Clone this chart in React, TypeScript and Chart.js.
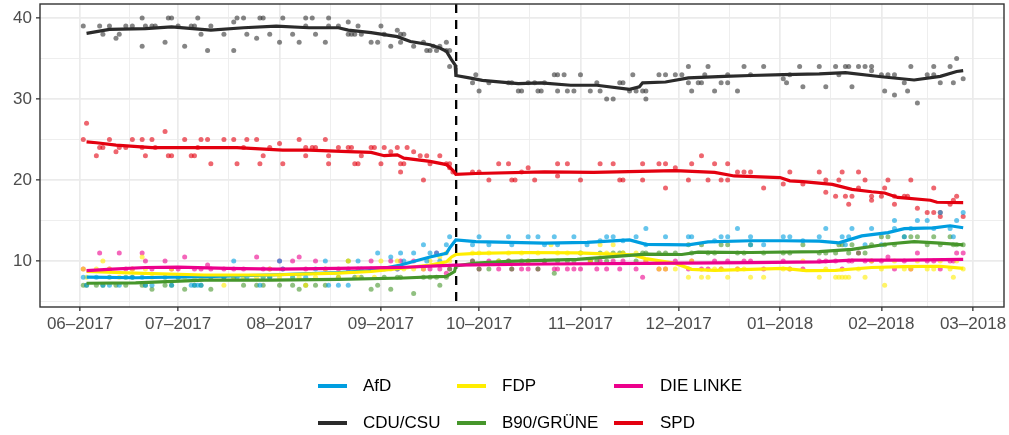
import React, { useEffect, useRef } from "react";
import { Chart, registerables } from "chart.js";
Chart.register(...registerables);

// x values: days since 2017-06-01
const monthTicks = [0, 30, 61, 92, 122, 153, 183, 214, 245, 273];
const monthLabels = ["06–2017", "07–2017", "08–2017", "09–2017", "10–2017", "11–2017", "12–2017", "01–2018", "02–2018", "03–2018"];
const minorXTicks = [15, 45.5, 76.5, 107, 137.5, 168, 198.5, 229.5, 259];
const yMajorTicks = [10, 20, 30, 40];
const yMinorTicks = [5, 15, 25, 35];
const electionDay = 115;

const partyNames = ["AfD", "CDU/CSU", "FDP", "B90/GRÜNE", "DIE LINKE", "SPD"];
const partyColors = ["#009EE0", "#333333", "#FFED00", "#46962B", "#EC008C", "#E3000F"];

// poll points [day, percent]
const afdPolls = [[1,8],[2,7],[5,8],[7,7],[9,7],[12,7],[14,8],[16,8],[19,8],[20,7],[22,7],[26,8],[28,7],[30,8],[34,7],[35,7],[36,7],[37,7],[40,8],[44,8],[47,10],[48,8],[51,8],[55,7],[56,8],[58,8],[61,10],[62,9],[65,8],[69,8],[72,9],[75,10],[76,7],[79,7],[82,7],[85,10],[86,9],[89,9],[91,11],[93,9],[95,10.5],[97,9],[98,11],[99,10],[102,11],[105,12],[106,10],[107,11],[109,11],[110,10],[112,12],[113,13],
  [120,12],[122,13],[125,12],[131,13],[132,12],[137,13],[140,13],[142,12],[145,13],[146,12],[151,13],[155,12],[159,12.5],[161,13],[163,13],[166,12.5],[170,13],[173,14],[173,12],[179,13],[186,13],[187,13],[194,12.5],[196,13],[198,13],[201,14],[205,13],[205,12],[209,12],[215,13],[217,13],[221,12.5],[226,13],[228,14],[233,13],[234,12],[235,13],[236,14],[240,12],[242,14],[245,12],[249,15],[249,14],[252,13],[254,14],[256,15],[259,15],[261,14],[263,16],[266,14],[267,13],[268,15],[270,16]];
const cduPolls = [[1,39],[6,39],[7,38],[9,39],[11,37.5],[12,38],[14,39],[16,39],[19,40],[19,36.5],[20,39],[22,39],[23,39],[26,37],[27,40],[28,40],[30,39],[32,36.5],[34,39],[35,39],[36,40],[37,38],[39,36],[40,39],[44,38],[47,39.5],[47,36],[48,40],[50,40],[51,38],[54,37.5],[55,40],[56,40],[58,38],[61,37],[62,40],[65,38],[67,37],[69,40],[69,39],[71,40],[72,38],[75,37],[76,40],[76,39],[79,39],[82,39.5],[82,38],[83,38],[84,38],[85,39],[86,38],[89,37],[91,37],[92,39],[93,38],[95,36.5],[97,38.5],[98,38],[98,37],[99,38],[102,36.5],[105,37],[106,36],[107,36],[108,36.5],[109,36],[110,36.5],[112,37],[112,36],[113,36],[113,34],
  [120,32],[121,33],[122,31],[125,32],[131,32],[132,32],[134,31],[135,31],[137,32],[139,32],[140,31],[141,31],[142,32],[145,33],[146,33],[146,31],[148,33],[149,31],[151,31],[153,33],[156,31],[158,32],[159,31],[161,30],[163,30],[165,32],[166,32],[168,31],[169,33],[170,31],[172,31],[173,30],[173,31],[177,33],[179,33],[182,33],[184,33],[186,34],[186,32],[187,31],[189,32],[190,32],[191,33],[192,34],[194,31],[196,32],[198,33],[198,32],[201,31],[203,34],[205,33],[209,34],[215,32.5],[216,32],[217,33],[220,34],[221,31.5],[226,34],[228,31.5],[231,34],[232,33],[234,34],[235,34],[236,31.5],[238,34],[240,34],[242,34],[242,33.5],[245,33],[246,31],[247,33],[249,33],[249,30.5],[252,32],[253,31],[254,34],[256,29.5],[259,33],[261,34],[261,33],[263,32],[266,34],[267,32],[268,35],[270,32.5]];
const fdpPolls = [[1,9],[2,8],[5,9],[7,10],[9,9],[12,8],[14,8],[16,9],[19,10.5],[20,9],[22,8],[26,8],[28,9],[30,8],[32,8],[35,8],[37,8],[40,8],[44,7],[47,8],[50,8],[54,8],[56,8],[58,9],[61,8],[65,8],[67,8],[69,7],[72,8],[75,9],[79,8],[82,10],[85,8],[89,9],[90,8],[92,10],[95,9],[97,10],[99,9],[102,9],[105,9],[107,10],[110,10.5],[112,11],[113,10],
  [120,11],[122,11],[125,11],[128,10],[131,11],[135,11],[137,10],[140,11],[144,12],[146,11],[149,11],[153,11],[156,10],[159,12],[161,11],[163,12],[166,11],[170,11],[173,10],[177,9],[179,9],[182,9],[186,8],[187,10],[190,8],[192,8],[194,9],[196,9],[198,8],[201,9],[203,9],[205,8],[209,8],[215,9],[217,9],[221,10],[226,8],[228,9],[231,8],[232,8],[233,8],[234,8],[235,8],[238,9],[240,8],[242,10],[245,9],[246,7],[249,10],[252,9],[254,9],[256,10],[259,9],[261,9],[263,10],[266,9],[267,8],[268,10],[270,9]];
const gruenePolls = [[1,7],[2,7],[5,7],[7,7],[9,8],[11,7],[14,7],[16,8],[19,7],[20,7],[22,6.5],[26,7],[28,7],[30,8],[32,6.5],[35,7],[37,7],[40,6.5],[44,8],[47,8],[50,7],[54,7],[56,7],[58,8],[61,7],[65,7],[67,6.5],[69,7],[72,7],[75,7],[79,8],[82,10],[84,8],[86,8],[89,6.5],[91,7],[93,8],[95,6.5],[97,8],[98,8],[102,6],[105,8],[107,8],[109,8],[110,7],[112,8],[113,9],
  [120,10],[122,9],[125,9],[128,10],[131,10],[132,9],[135,10],[137,10],[140,9],[142,10],[145,8.5],[146,10],[149,10],[151,10],[153,11],[156,10],[158,10],[159,11],[161,10],[163,11],[165,11],[166,11],[170,10],[172,11],[173,11],[177,11],[179,11],[182,11],[186,12],[187,11],[190,12],[192,11],[194,11],[196,12],[198,12],[201,11],[203,11],[205,12],[209,11],[215,11],[217,11],[221,12],[226,11],[228,11],[231,11],[232,12],[233,12],[235,11],[236,12],[238,11],[240,11],[242,12],[245,13],[246,12],[247,13],[249,12],[252,13],[254,13],[256,13],[259,12],[261,13],[263,12],[266,13],[267,12],[268,12],[270,12]];
const linkePolls = [[1,9],[6,11],[9,9],[12,11],[14,9],[16,9],[19,11],[20,10],[22,9],[26,10],[28,9],[30,9],[32,10.5],[35,9],[37,9],[39,9.5],[40,9],[44,9],[47,9],[50,9],[54,10.5],[56,9],[58,9],[61,10],[62,9],[65,10],[67,10.5],[69,9],[72,10],[75,9],[79,9],[82,9],[85,9],[89,10],[92,9],[95,10],[97,9],[98,10],[102,10],[105,9],[107,9],[109,11],[110,9],[112,8.5],[113,9],
  [120,10],[122,9],[125,10],[128,9],[131,10],[132,9],[135,9],[137,9],[140,9],[142,10],[145,9],[146,9],[149,9],[151,9],[153,9],[156,10],[158,9],[159,10],[161,9],[163,10],[165,9],[166,10],[170,9],[172,8],[173,10],[177,9],[179,9],[182,10],[186,9],[187,10],[190,9],[192,9],[194,10],[196,9],[198,10],[201,9],[203,10],[205,10],[209,9],[215,10],[217,9],[221,9],[226,10],[228,10],[231,10],[233,9],[235,10],[236,10],[238,11],[240,10],[242,10],[245,10],[247,10.5],[249,9],[252,10],[254,9],[256,11],[259,10],[261,10],[263,9],[266,10],[267,10],[268,11],[270,11]];
const spdPolls = [[1,25],[2,27],[5,23],[6,24],[7,24],[9,25],[11,23.5],[12,24],[14,24],[16,25],[19,25],[19,24],[20,23],[22,25],[23,24],[26,26],[27,23],[28,23],[32,25],[34,23],[35,23],[36,24],[37,25],[39,25],[40,22],[44,25],[47,25],[48,22],[50,24],[51,25],[54,25],[55,22],[56,23],[58,24],[61,24.5],[62,22],[67,25],[69,24],[69,23],[71,24],[72,24],[75,25],[76,23],[76,22],[79,24],[82,24],[83,24],[84,22],[85,22],[86,23],[89,24],[90,24],[92,22],[93,24],[95,23.5],[97,24],[98,22],[98,21],[99,22],[100,24],[102,23.5],[104,23],[105,20],[106,23],[107,22],[110,23],[112,22],[113,22],[113,21.5],[114,21],
  [120,21],[122,21],[125,20],[128,22],[131,22],[132,20],[133,20],[135,21],[137,21.5],[139,20],[146,22],[146,20.5],[149,22],[153,20],[159,22],[163,22],[165,20],[166,20],[172,22],[172,20],[177,22],[179,22],[179,19],[182,21.5],[186,20],[187,22],[190,23],[192,20],[194,22],[196,20],[198,22],[198,20],[201,21],[203,21],[205,21],[209,19],[215,19.5],[217,21],[221,19.5],[226,21],[228,20],[228,18.5],[231,18],[232,20],[233,21],[234,18],[235,17],[236,18],[238,21],[238,19],[240,20],[242,18],[242,17.5],[245,18],[246,19],[247,20],[249,18],[249,17],[252,18],[253,18],[254,20],[256,16.5],[259,16],[261,19],[261,16],[263,16],[263,15.5],[266,17],[267,17.5],[268,18],[270,15.5]];

// smoothed trend [day, percent]
const afdTrend = [[2,8.0],[17,7.93],[38,8.07],[58,8.27],[79,8.56],[89,8.8],[98,9.5],[107,10.5],[112,10.95],[113,11.6],[114.9,12.6],[121,12.4],[142,12.2],[155,12.3],[168,12.6],[173,12.05],[186,12.0],[192,12.35],[205,12.5],[215,12.5],[226,12.45],[232,12.25],[239,13.1],[247,13.5],[252,14.0],[261,14.1],[266,14.35],[270,14.1]];
const cduTrend = [[2,38.1],[9,38.6],[20,38.7],[28,38.9],[40,38.5],[50,38.8],[60,39.0],[70,38.8],[79,38.8],[82,38.5],[89,38.2],[97,37.7],[101,37.1],[107,36.7],[110,36.3],[112,35.9],[113.5,34.9],[114.7,34.2],[114.9,32.9],[119,32.6],[123,32.3],[134,31.9],[141,32.0],[150,31.7],[158,31.7],[168,31.2],[171,31.5],[172,32.0],[179,32.1],[186,32.6],[197,32.8],[205,32.9],[215,33.0],[226,33.1],[234,33.25],[245,32.75],[255,32.35],[263,32.8],[268,33.4],[270,33.5]];
const fdpTrend = [[2,8.7],[17,8.5],[38,8.27],[58,8.27],[79,8.5],[89,8.7],[98,9.1],[107,9.5],[112,9.9],[113.6,10.5],[114.9,10.8],[121,10.95],[136,11.05],[152,11.0],[169,10.75],[173,10.3],[182,9.7],[187,8.97],[194,8.85],[205,8.97],[215,9.1],[222,8.8],[231,8.85],[242,9.2],[252,9.3],[263,9.35],[270,9.1]];
const grueneTrend = [[2,7.25],[17,7.3],[38,7.65],[58,7.65],[79,7.73],[99,7.9],[109,8.06],[112,8.1],[114.5,8.7],[114.9,9.4],[121,9.75],[131,9.95],[152,10.2],[160,10.45],[173,10.85],[184,10.8],[189,11.1],[205,11.05],[226,11.15],[236,11.44],[247,12.1],[255,12.4],[263,12.2],[270,12.0]];
const linkeTrend = [[2,8.8],[10,9.0],[20,9.2],[30,9.25],[45,9.1],[60,9.0],[79,9.1],[98,9.2],[109,9.4],[114.9,9.5],[142,9.63],[173,9.7],[205,9.8],[226,9.9],[236,10.1],[252,10.1],[270,10.2]];
const spdTrend = [[2,24.7],[5,24.6],[11,24.3],[22,24.0],[38,24.0],[48,24.0],[62,23.7],[70,23.7],[82,23.5],[89,23.4],[93,23.0],[97,23.1],[99,22.7],[107,22.3],[112,21.9],[114,21.2],[114.9,20.7],[121,20.8],[142,21.0],[157,20.95],[182,21.15],[194,20.95],[200,20.5],[214,20.3],[217,19.9],[221,19.8],[230,19.45],[236,18.85],[242,18.55],[246,18.4],[250,17.85],[260,17.5],[262,17.25],[270,17.2]];

const pollSets = [afdPolls, cduPolls, fdpPolls, gruenePolls, linkePolls, spdPolls];
const trendSets = [afdTrend, cduTrend, fdpTrend, grueneTrend, linkeTrend, spdTrend];

const legendRows = [["AfD", "FDP", "DIE LINKE"], ["CDU/CSU", "B90/GRÜNE", "SPD"]];

const FONT = "'Liberation Sans', Arial, Helvetica, sans-serif";

function withAlpha(hex: string, a: number) {
  const n = parseInt(hex.slice(1), 16);
  return `rgba(${(n >> 16) & 255},${(n >> 8) & 255},${n & 255},${a})`;
}

const framePlugin = {
  id: "frame",
  beforeDatasetsDraw(chart: any) {
    const { ctx, chartArea } = chart;
    const x = chart.scales.x.getPixelForValue(electionDay);
    ctx.save();
    ctx.strokeStyle = "#000000";
    ctx.lineWidth = 2.3;
    ctx.setLineDash([9, 7]);
    ctx.beginPath();
    ctx.moveTo(x, chartArea.top);
    ctx.lineTo(x, chartArea.bottom);
    ctx.stroke();
    ctx.restore();
  },
  afterDraw(chart: any) {
    const { ctx, chartArea } = chart;
    ctx.save();
    ctx.strokeStyle = "#333333";
    ctx.lineWidth = 1.4;
    ctx.strokeRect(chartArea.left, chartArea.top, chartArea.right - chartArea.left, chartArea.bottom - chartArea.top);
    ctx.restore();
  },
};

export default function App() {
  const ref = useRef<HTMLCanvasElement>(null);

  useEffect(() => {
    if (!ref.current) return;
    const datasets: any[] = [];
    partyNames.forEach((name, i) => {
      datasets.push({
        label: name + " polls",
        data: pollSets[i].map(([x, y]) => ({ x, y })),
        showLine: false,
        pointRadius: 2.5,
        pointHoverRadius: 2.5,
        pointBorderWidth: 0,
        pointBackgroundColor: withAlpha(partyColors[i], 0.6),
        borderColor: "rgba(0,0,0,0)",
        order: 2,
      });
    });
    partyNames.forEach((name, i) => {
      datasets.push({
        label: name,
        data: trendSets[i].map(([x, y]) => ({ x, y })),
        showLine: true,
        borderColor: partyColors[i] === "#333333" ? "#2b2b2b" : partyColors[i],
        borderWidth: 3.2,
        pointRadius: 0,
        tension: 0,
        fill: false,
        order: 1 - i * 0.01,
      });
    });

    const isMajorX = (v: number) => monthTicks.includes(v);
    const isMajorY = (v: number) => yMajorTicks.includes(v);

    const chart = new Chart(ref.current, {
      type: "scatter",
      data: { datasets },
      plugins: [framePlugin],
      options: {
        animation: false,
        responsive: false,
        devicePixelRatio: 1,
        events: [],
        layout: { padding: { left: 0, top: 4, right: 5, bottom: 88 } },
        plugins: { legend: { display: false }, tooltip: { enabled: false } },
        scales: {
          x: {
            type: "linear",
            min: -12.23,
            max: 282.48,
            afterBuildTicks: (scale: any) => {
              scale.ticks = [...monthTicks, ...minorXTicks].sort((a, b) => a - b).map((v) => ({ value: v }));
            },
            afterFit: (scale: any) => {
              scale.height = 40;
              scale.paddingLeft = 0;
              scale.paddingRight = 0;
            },
            border: { display: false },
            grid: {
              color: "#EBEBEB",
              lineWidth: (c: any) => (c.tick && isMajorX(c.tick.value) ? 1.7 : 0.85),
              drawTicks: true,
              tickLength: 4,
              tickWidth: 1.3,
              tickColor: (c: any) => (c.tick && isMajorX(c.tick.value) ? "#333333" : "rgba(0,0,0,0)"),
            },
            ticks: {
              autoSkip: false,
              maxRotation: 0,
              minRotation: 0,
              padding: 3,
              color: "#4D4D4D",
              font: { family: FONT, size: 17 },
              callback: (v: any) => {
                const i = monthTicks.indexOf(Number(v));
                return i >= 0 ? monthLabels[i] : "";
              },
            },
          },
          y: {
            type: "linear",
            min: 4.32,
            max: 41.73,
            afterBuildTicks: (scale: any) => {
              scale.ticks = [...yMinorTicks, ...yMajorTicks].sort((a, b) => a - b).map((v) => ({ value: v }));
            },
            afterFit: (scale: any) => {
              scale.width = 40;
              scale.paddingTop = 0;
              scale.paddingBottom = 0;
            },
            border: { display: false },
            grid: {
              color: "#EBEBEB",
              lineWidth: (c: any) => (c.tick && isMajorY(c.tick.value) ? 1.7 : 0.85),
              drawTicks: true,
              tickLength: 4,
              tickWidth: 1.3,
              tickColor: (c: any) => (c.tick && isMajorY(c.tick.value) ? "#333333" : "rgba(0,0,0,0)"),
            },
            ticks: {
              autoSkip: false,
              padding: 4,
              color: "#4D4D4D",
              font: { family: FONT, size: 17 },
              callback: (v: any) => (isMajorY(Number(v)) ? String(v) : ""),
            },
          },
        },
      } as any,
    });
    return () => chart.destroy();
  }, []);

  const keyLefts = [318, 457, 614];
  const textLefts = [363, 502, 660];
  const rowCenters = [386, 423];
  const colorOf = (name: string) => partyColors[partyNames.indexOf(name)];

  return (
    <div style={{ position: "fixed", left: 0, top: 0, width: 1009, height: 435, background: "#ffffff", overflow: "hidden" }}>
      <canvas ref={ref} width={1009} height={435} style={{ position: "absolute", left: 0, top: 0, width: 1009, height: 435 }} />
      {legendRows.map((row, r) =>
        row.map((name, c) => (
          <React.Fragment key={name}>
            <div
              style={{
                position: "absolute",
                left: keyLefts[c],
                top: rowCenters[r] - 2,
                width: 29,
                height: 4,
                background: colorOf(name) === "#333333" ? "#2b2b2b" : colorOf(name),
              }}
            />
            <div
              style={{
                position: "absolute",
                left: textLefts[c],
                top: rowCenters[r] - 12,
                height: 24,
                lineHeight: "24px",
                fontFamily: FONT,
                fontSize: 17,
                color: "#000000",
                whiteSpace: "nowrap",
              }}
            >
              {name}
            </div>
          </React.Fragment>
        ))
      )}
    </div>
  );
}
